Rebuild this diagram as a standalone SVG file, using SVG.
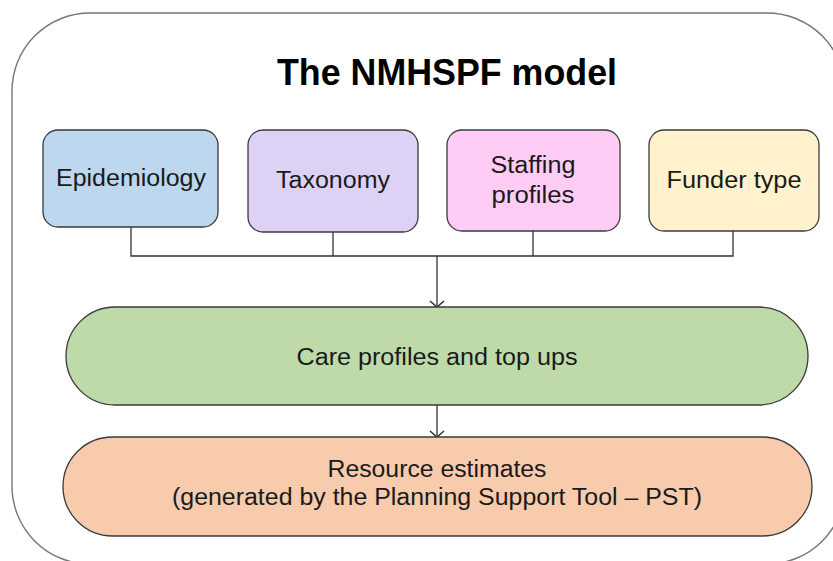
<svg xmlns="http://www.w3.org/2000/svg" width="833" height="561" viewBox="0 0 833 561">
  <style>
    .box { stroke: #3a3a3a; stroke-width: 1.3; }
    .lbl { font-family: "Liberation Sans", Arial, sans-serif; font-size: 23px; fill: #1a1a1a; text-anchor: middle; }
    .title { font-family: "Liberation Sans", Arial, sans-serif; font-size: 36px; font-weight: bold; fill: #000; text-anchor: middle; }
    .wire { fill: none; stroke: #333; stroke-width: 1.3; }
  </style>
  <defs>
    <!-- open V arrowhead, drawn along the +x direction of the line -->
    <marker id="arrow" viewBox="0 0 12 16" refX="11" refY="8" markerWidth="12" markerHeight="16" markerUnits="userSpaceOnUse" orient="auto">
      <polyline points="5,1 11,8 5,15" fill="none" stroke="#333" stroke-width="1.6"/>
    </marker>
  </defs>

  <rect width="833" height="561" fill="#ffffff"/>

  <!-- outer frame -->
  <g id="frame">
    <rect x="12" y="13" width="833" height="551" rx="78" ry="78" fill="#ffffff" stroke="#777" stroke-width="1.4"/>
    <text class="title" x="447" y="85" textLength="340" lengthAdjust="spacingAndGlyphs">The NMHSPF model</text>
  </g>

  <!-- connectors -->
  <g id="connectors">
    <polyline class="wire" points="131,227 131,256 733,256 733,231"/>
    <line class="wire" x1="333" y1="232" x2="333" y2="256"/>
    <line class="wire" x1="533" y1="231" x2="533" y2="256"/>
    <line class="wire" x1="437" y1="256" x2="437" y2="307" marker-end="url(#arrow)"/>
    <line class="wire" x1="437" y1="405" x2="437" y2="437" marker-end="url(#arrow)"/>
  </g>

  <g id="epidemiology">
    <rect class="box" x="43" y="130" width="175" height="97" rx="15" fill="#BDD7EE"/>
    <text class="lbl" x="131" y="186" textLength="150" lengthAdjust="spacingAndGlyphs">Epidemiology</text>
  </g>

  <g id="taxonomy">
    <rect class="box" x="248" y="130" width="170" height="102" rx="15" fill="#DDD1F6"/>
    <text class="lbl" x="333" y="188" textLength="114" lengthAdjust="spacingAndGlyphs">Taxonomy</text>
  </g>

  <g id="staffing">
    <rect class="box" x="447" y="130" width="173" height="101" rx="15" fill="#FFCCF6"/>
    <text class="lbl" x="533" y="173" textLength="85" lengthAdjust="spacingAndGlyphs">Staffing</text>
    <text class="lbl" x="533" y="203" textLength="83" lengthAdjust="spacingAndGlyphs">profiles</text>
  </g>

  <g id="funder">
    <rect class="box" x="649" y="130" width="170" height="101" rx="15" fill="#FFF2CC"/>
    <text class="lbl" x="734" y="188" textLength="135" lengthAdjust="spacingAndGlyphs">Funder type</text>
  </g>

  <g id="care-profiles">
    <rect class="box" x="66" y="307" width="742" height="98" rx="49" fill="#BEDAA8"/>
    <text class="lbl" x="437" y="365" textLength="281" lengthAdjust="spacingAndGlyphs">Care profiles and top ups</text>
  </g>

  <g id="resource-estimates">
    <rect class="box" x="63" y="437" width="749" height="99" rx="49.5" fill="#F8CBAD"/>
    <text class="lbl" x="437" y="477" textLength="219" lengthAdjust="spacingAndGlyphs">Resource estimates</text>
    <text class="lbl" x="437" y="505" textLength="530" lengthAdjust="spacingAndGlyphs">(generated by the Planning Support Tool – PST)</text>
  </g>
</svg>
